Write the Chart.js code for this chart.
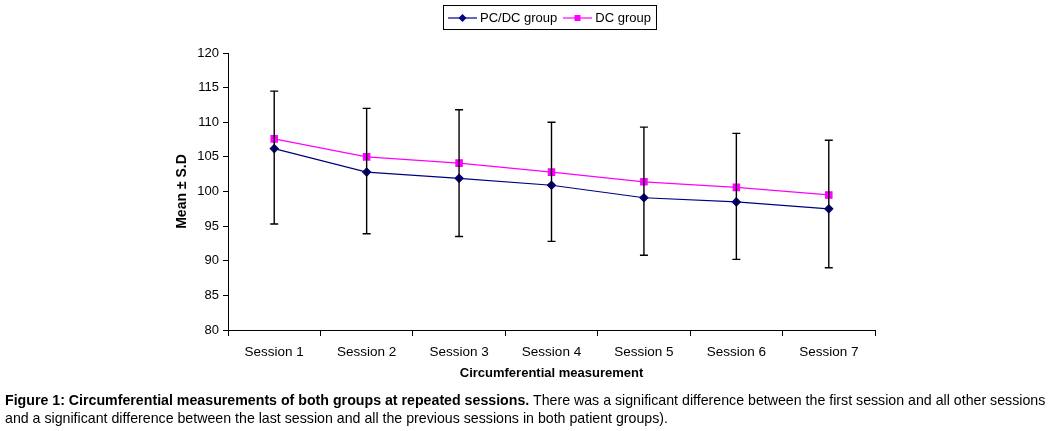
<!DOCTYPE html>
<html lang="en">
<head>
<meta charset="UTF-8">
<title>Circumferential measurements</title>
<script src="https://cdn.jsdelivr.net/npm/chart.js"></script>
<style>
    html, body { margin: 0; padding: 0; background: #fff; }
    body { width: 1049px; height: 431px; position: relative; overflow: hidden; font-family: 'Liberation Sans', Arial, sans-serif; color: #000; }
    #wrap { position: absolute; left: 0; top: 0; width: 1049px; height: 431px; }
    .legend { position: absolute; left: 443px; top: 5px; width: 214px; height: 25px; border: 1px solid #000; box-sizing: border-box; font-size: 13px; display: flex; align-items: center; padding-left: 4px; white-space: nowrap; }
    .legend canvas { margin-right: 3px; flex: none; }
    .legend span { margin-right: 6px; }
    .caption { position: absolute; left: 5px; top: 391px; font-size: 14.2px; line-height: 18px; white-space: nowrap; }
</style>
</head>
<body>
<div id="wrap"><canvas id="chart"></canvas></div>
<div class="legend">
    <canvas id="ic1" width="29" height="12"></canvas><span>PC/DC group</span>
    <canvas id="ic2" width="29" height="12"></canvas><span>DC group</span>
</div>
<div class="caption">
    <div><b>Figure 1: Circumferential measurements of both groups at repeated sessions.</b> There was a significant difference between the first session and all other sessions</div>
    <div>and a significant difference between the last session and all the previous sessions in both patient groups).</div>
</div>

<script>
    // values
    const sessions = ['Session 1', 'Session 2', 'Session 3', 'Session 4', 'Session 5', 'Session 6', 'Session 7'];
    const pcdc = [106.2, 102.8, 101.9, 100.9, 99.1, 98.5, 97.5];
    const dc = [107.6, 105.0, 104.1, 102.8, 101.4, 100.6, 99.5];
    const errHigh = [114.5, 112.0, 111.8, 110.0, 109.3, 108.4, 107.4];
    const errLow = [95.3, 93.9, 93.5, 92.8, 90.8, 90.2, 89.0];
    const yTicks = [80, 85, 90, 95, 100, 105, 110, 115, 120];

    const NAVY = '#000080';
    const MAGENTA = '#FF00FF';

    // legend icons
    function icon(id, color, shape) {
        const c = document.getElementById(id).getContext('2d');
        c.strokeStyle = color; c.fillStyle = color; c.lineWidth = 1.2;
        c.beginPath(); c.moveTo(0, 6); c.lineTo(29, 6); c.stroke();
        c.beginPath();
        if (shape === 'diamond') { c.moveTo(14.5, 2); c.lineTo(18.5, 6); c.lineTo(14.5, 10); c.lineTo(10.5, 6); c.closePath(); }
        else { c.rect(11.5, 3, 6, 6); }
        c.fill();
    }
    icon('ic1', NAVY, 'diamond');
    icon('ic2', MAGENTA, 'square');

    const errorBars = {
        id: 'errorBars',
        afterDatasetsDraw(chart) {
            const ctx = chart.ctx, x = chart.scales.x, y = chart.scales.y;
            ctx.save();
            ctx.strokeStyle = '#000';
            ctx.lineWidth = 1.4;
            sessions.forEach((s, i) => {
                const px = x.getPixelForValue(i);
                const top = y.getPixelForValue(errHigh[i]);
                const bot = y.getPixelForValue(errLow[i]);
                ctx.beginPath();
                ctx.moveTo(px, top); ctx.lineTo(px, bot);
                ctx.moveTo(px - 4, top); ctx.lineTo(px + 4, top);
                ctx.moveTo(px - 4, bot); ctx.lineTo(px + 4, bot);
                ctx.stroke();
            });
            ctx.restore();
        }
    };

    new Chart(document.getElementById('chart'), {
        type: 'line',
        data: {
            labels: sessions,
            datasets: [
                { label: 'PC/DC group', data: pcdc, borderColor: NAVY, backgroundColor: NAVY, borderWidth: 1.2,
                  pointStyle: 'rectRot', pointRadius: 4, pointHoverRadius: 4, tension: 0 },
                { label: 'DC group', data: dc, borderColor: MAGENTA, backgroundColor: MAGENTA, borderWidth: 1.2,
                  pointStyle: 'rect', pointRadius: 4.5, pointHoverRadius: 4.5, tension: 0 }
            ]
        },
        options: {
            responsive: true,
            maintainAspectRatio: false,
            animation: false,
            layout: { padding: { left: 170, top: 53, right: 174, bottom: 46 } },
            plugins: { legend: { display: false }, tooltip: { enabled: false } },
            scales: {
                x: {
                    offset: true,
                    grid: { offset: true, drawOnChartArea: false, drawTicks: true, tickLength: 6, color: '#000' },
                    border: { color: '#000', width: 1 },
                    ticks: { color: '#000', font: { family: 'Liberation Sans', size: 13.5 }, padding: 8, maxRotation: 0 },
                    title: { display: true, text: 'Circumferential measurement', color: '#000',
                             font: { family: 'Liberation Sans', size: 13, weight: 'bold' }, padding: { top: 4, bottom: 4 } },
                    afterFit(s) { s.height = 55; }
                },
                y: {
                    min: 80, max: 120,
                    afterBuildTicks(s) { s.ticks = yTicks.map(v => ({ value: v })); },
                    grid: { drawOnChartArea: false, drawTicks: true, tickLength: 5, color: '#000' },
                    border: { color: '#000', width: 1 },
                    ticks: { color: '#000', font: { family: 'Liberation Sans', size: 13 }, padding: 4 },
                    title: { display: true, text: 'Mean ± S.D', color: '#000',
                             font: { family: 'Liberation Sans', size: 14, weight: 'bold' }, padding: 4 },
                    afterFit(s) { s.width = 58; }
                }
            }
        },
        plugins: [errorBars]
    });
</script>
</body>
</html>
